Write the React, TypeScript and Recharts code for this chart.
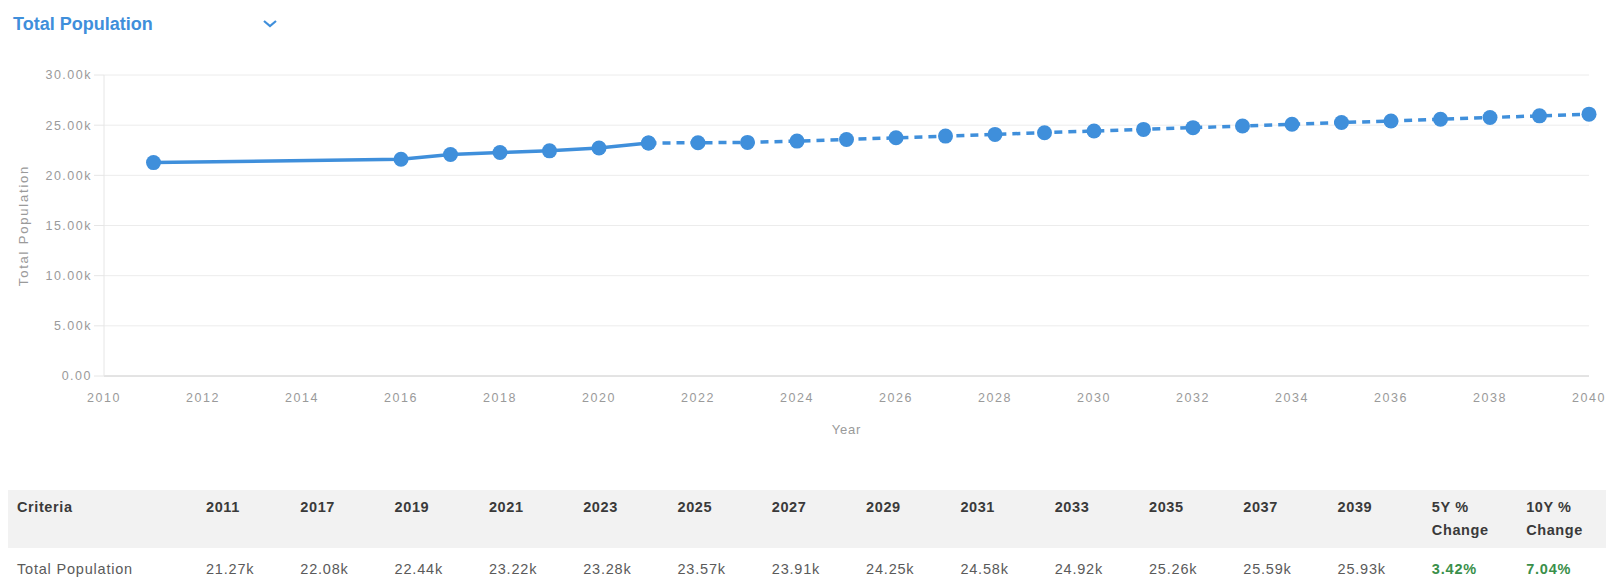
import React from "react";
import { LineChart, Line, XAxis, YAxis, CartesianGrid } from "recharts";

// chart points (table values where known)
const actualYears = [2011, 2016, 2017, 2018, 2019, 2020, 2021];
const actualValues = [21270, 21600, 22080, 22270, 22440, 22720, 23220];

const projYears = [2021, 2022, 2023, 2024, 2025, 2026, 2027, 2028, 2029, 2030, 2031, 2032, 2033, 2034, 2035, 2036, 2037, 2038, 2039, 2040];
const projValues = [23220, 23250, 23280, 23410, 23570, 23740, 23910, 24080, 24250, 24420, 24580, 24750, 24920, 25090, 25260, 25420, 25590, 25760, 25930, 26100];

const xTicks = [2010, 2012, 2014, 2016, 2018, 2020, 2022, 2024, 2026, 2028, 2030, 2032, 2034, 2036, 2038, 2040];
const yTicks = [0, 5000, 10000, 15000, 20000, 25000, 30000];

// table below the chart
const tableYears = ["2011", "2017", "2019", "2021", "2023", "2025", "2027", "2029", "2031", "2033", "2035", "2037", "2039"];
const tableValues = ["21.27k", "22.08k", "22.44k", "23.22k", "23.28k", "23.57k", "23.91k", "24.25k", "24.58k", "24.92k", "25.26k", "25.59k", "25.93k"];
const change5Y = "3.42%";
const change10Y = "7.04%";

const BLUE = "#3f8fdb";
const FONT = "'Liberation Sans', Arial, Helvetica, sans-serif";

const chartData = [
  ...actualYears.map((year, i) => ({
    year,
    actual: actualValues[i],
    projected: year === projYears[0] ? projValues[0] : null,
  })),
  ...projYears.slice(1).map((year, i) => ({ year, actual: null, projected: projValues[i + 1] })),
];

const fmtY = (v: number) => (v === 0 ? "0.00" : (v / 1000).toFixed(2) + "k");

const tickStyle = { fill: "#9a9a9a", fontSize: 12.5, fontFamily: FONT, letterSpacing: 1.5 };

export default function App() {
  const th: React.CSSProperties = {
    textAlign: "left",
    verticalAlign: "top",
    fontWeight: "bold",
    color: "#3a3a3a",
    padding: "6px 0 0 9px",
    lineHeight: "23px",
    letterSpacing: 0.6,
  };
  const td: React.CSSProperties = {
    textAlign: "left",
    color: "#5a5a5a",
    padding: "13px 0 0 9px",
    lineHeight: "17px",
    letterSpacing: 0.8,
  };

  return (
    <div style={{ position: "absolute", left: 0, top: 0, width: 1606, height: 579, background: "#fff", fontFamily: FONT, overflow: "hidden" }}>
      <div style={{ position: "absolute", left: 13, top: 14, fontSize: 18, lineHeight: "21px", fontWeight: "bold", color: BLUE }}>
        Total Population
      </div>
      <svg style={{ position: "absolute", left: 262, top: 19 }} width={16} height={10}>
        <polyline points="2,2 8,7 14,2" fill="none" stroke={BLUE} strokeWidth={2.2} />
      </svg>

      <div style={{ position: "absolute", left: 0, top: 0 }}>
        <LineChart width={1606} height={460} data={chartData} margin={{ top: 75, right: 17, bottom: 20, left: 0 }}>
          <CartesianGrid vertical={false} stroke="#ececec" />
          <XAxis
            dataKey="year"
            type="number"
            domain={[2010, 2040]}
            ticks={xTicks}
            height={64}
            tickSize={0}
            tickMargin={17}
            tick={tickStyle}
            stroke="#d2d2d2"
            label={{ value: "Year", position: "insideBottom", offset: 6, fill: "#9a9a9a", fontSize: 13, fontFamily: FONT, letterSpacing: 0.8 }}
          />
          <YAxis
            domain={[0, 30000]}
            ticks={yTicks}
            width={104}
            tickFormatter={fmtY}
            tickSize={10}
            tickMargin={2}
            tick={tickStyle}
            stroke="#e6e6e6"
            label={{
              value: "Total Population",
              angle: -90,
              position: "insideLeft",
              offset: 23,
              fill: "#9a9a9a",
              fontSize: 13,
              fontFamily: FONT,
              letterSpacing: 1.8,
              style: { textAnchor: "middle" },
            }}
          />
          <Line
            dataKey="actual"
            stroke={BLUE}
            strokeWidth={3.5}
            dot={{ r: 7.5, fill: BLUE, stroke: BLUE, strokeWidth: 0 }}
            connectNulls={false}
            isAnimationActive={false}
          />
          <Line
            dataKey="projected"
            stroke={BLUE}
            strokeWidth={3.5}
            strokeDasharray="8 6"
            dot={{ r: 7.5, fill: BLUE, stroke: BLUE, strokeWidth: 0 }}
            connectNulls={false}
            isAnimationActive={false}
          />
        </LineChart>
      </div>

      <table
        style={{
          position: "absolute",
          left: 8,
          top: 490,
          borderCollapse: "collapse",
          tableLayout: "fixed",
          width: 1598,
          fontSize: 14.5,
          fontFamily: FONT,
        }}
      >
        <colgroup>
          <col style={{ width: 189 }} />
          {tableYears.map((y) => (
            <col key={y} style={{ width: 94.3 }} />
          ))}
          <col style={{ width: 94.3 }} />
          <col style={{ width: 89 }} />
        </colgroup>
        <thead>
          <tr style={{ background: "#f2f2f2", height: 58 }}>
            <th style={th}>Criteria</th>
            {tableYears.map((y) => (
              <th key={y} style={th}>{y}</th>
            ))}
            <th style={th}>5Y %<br />Change</th>
            <th style={th}>10Y %<br />Change</th>
          </tr>
        </thead>
        <tbody>
          <tr>
            <td style={td}>Total Population</td>
            {tableValues.map((v, i) => (
              <td key={i} style={td}>{v}</td>
            ))}
            <td style={{ ...td, color: "#3a8f4a", fontWeight: "bold" }}>{change5Y}</td>
            <td style={{ ...td, color: "#3a8f4a", fontWeight: "bold" }}>{change10Y}</td>
          </tr>
        </tbody>
      </table>
    </div>
  );
}
